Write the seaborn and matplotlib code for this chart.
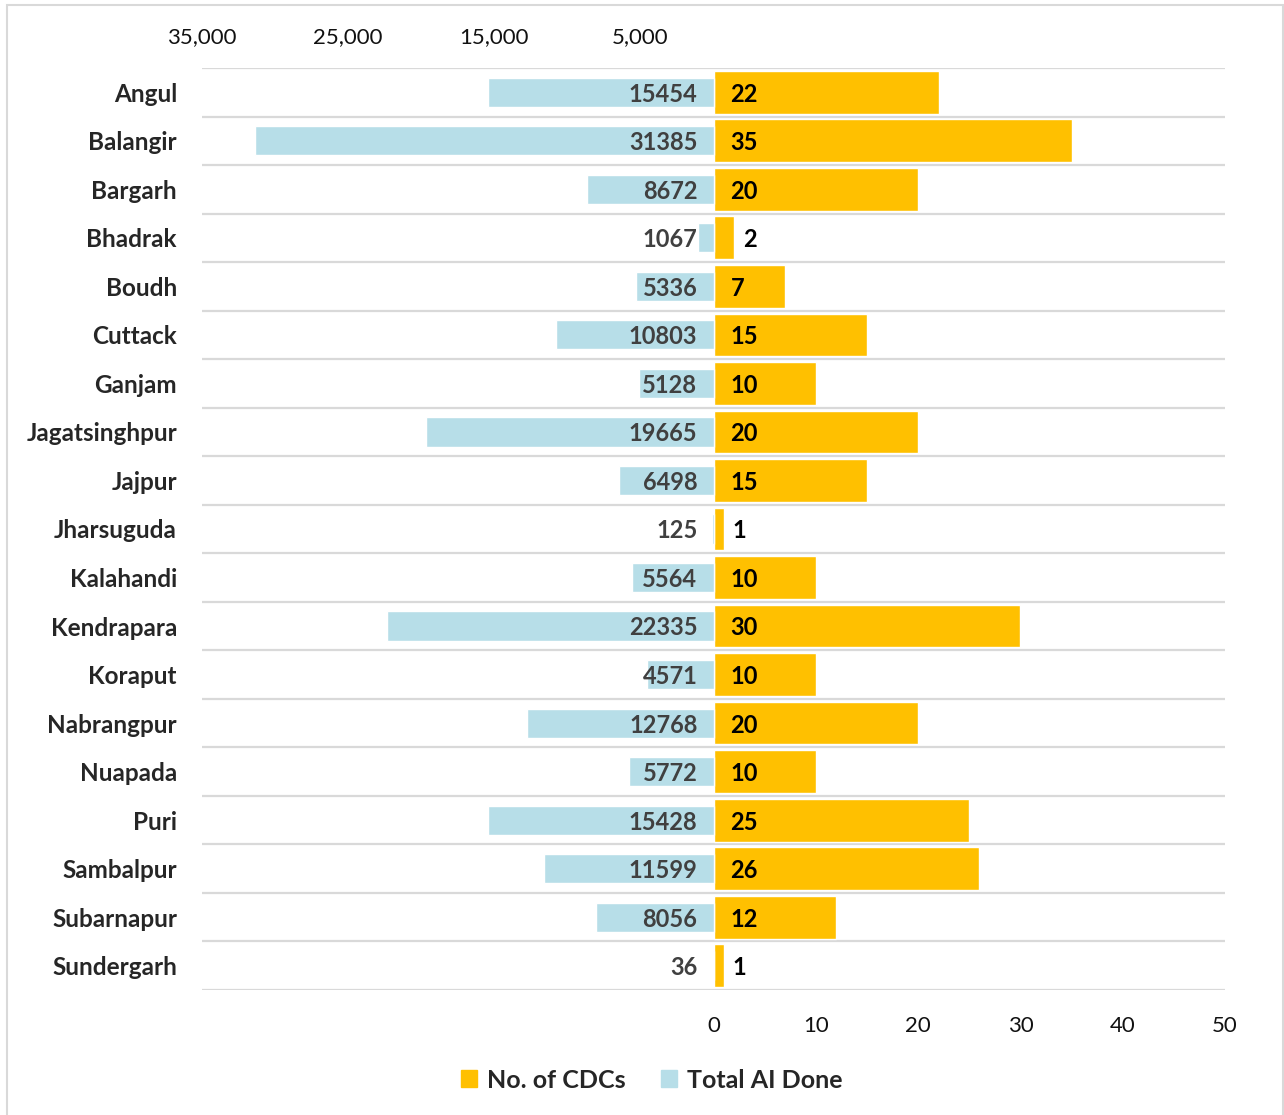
import matplotlib
matplotlib.use('Agg')
import matplotlib.pyplot as plt
import seaborn as sns
from matplotlib.patches import Patch, Rectangle

# Данные
districts = ['Angul', 'Balangir', 'Bargarh', 'Bhadrak', 'Boudh', 'Cuttack', 'Ganjam',
             'Jagatsinghpur', 'Jajpur', 'Jharsuguda', 'Kalahandi', 'Kendrapara', 'Koraput',
             'Nabrangpur', 'Nuapada', 'Puri', 'Sambalpur', 'Subarnapur', 'Sundergarh']
cdcs = [22, 35, 20, 2, 7, 15, 10, 20, 15, 1, 10, 30, 10, 20, 10, 25, 26, 12, 1]
ai_done = [15454, 31385, 8672, 1067, 5336, 10803, 5128, 19665, 6498, 125, 5564,
           22335, 4571, 12768, 5772, 15428, 11599, 8056, 36]
cdc_ticks = [0, 10, 20, 30, 40, 50]
ai_ticks = [35000, 25000, 15000, 5000]

orange = '#FFC000'
blue = '#B7DEE8'
grid_col = '#D9D9D9'

sns.set_style('white')
plt.rcParams['font.family'] = ['Lato', 'DejaVu Sans']

fig = plt.figure(figsize=(12.84, 11.15), dpi=100)
ax = fig.add_axes([202 / 1284, 1 - 990 / 1115, 1023 / 1284, 922 / 1115])
ax2 = ax.twiny()

n = len(districts)
for i in range(n + 1):
    ax.axhline(i - 0.5, color=grid_col, lw=1.6, zorder=0)

# Правая часть: количество CDC
sns.barplot(x=cdcs, y=districts, ax=ax, color=orange, width=0.88, zorder=2, saturation=1)
ax.set_xlim(-50, 50)
ax.set_xticks(cdc_ticks)
ax.set_xticklabels([str(t) for t in cdc_ticks])

# Левая часть: Total AI Done (перевёрнутая верхняя ось)
sns.barplot(x=ai_done, y=districts, ax=ax2, color=blue, width=0.6, zorder=2, saturation=1)
ax2.set_xlim(35000, -35000)
ax2.set_xticks(ai_ticks)
ax2.set_xticklabels([f'{t:,}' for t in ai_ticks])

ax.set_ylim(n - 0.5, -0.5)
ax.set_ylabel('')
ax.set_xlabel('')
ax2.set_xlabel('')
ax2.set_ylabel('')

for a in (ax, ax2):
    for s in a.spines.values():
        s.set_visible(False)
    a.tick_params(length=0)

ax.tick_params(axis='x', labelsize=16, pad=19, labelcolor='#111111')
ax2.tick_params(axis='x', labelsize=16, pad=15, labelcolor='#111111')
ax.tick_params(axis='y', labelsize=17.5, pad=18)
for lbl in ax.get_yticklabels():
    lbl.set_fontweight('bold')

# Подписи значений
for i, (c, v) in enumerate(zip(cdcs, ai_done)):
    x_lab = 1.65 if c >= 3 else c + 0.9
    ax.text(x_lab, i + 0.04, str(c), ha='left', va='center',
            fontsize=17, fontweight='bold', color='black', zorder=5)
    ax2.text(1100, i + 0.04, str(v), ha='right', va='center',
             fontsize=17, fontweight='bold', color='#404040', zorder=5)

handles = [Patch(color=orange, label='No. of CDCs'), Patch(color=blue, label='Total AI Done')]
fig.legend(handles=handles, loc='center', bbox_to_anchor=(652 / 1284, 1 - 1080 / 1115),
           ncol=2, frameon=False, handlelength=0.65, handleheight=0.65, handletextpad=0.4,
           columnspacing=1.4, prop={'size': 18, 'weight': 'bold'})

fig.patches.append(Rectangle((7 / 1284, -0.01), 1 - 7 / 1284 - 0.001, 1 - 5 / 1115 + 0.01,
                             transform=fig.transFigure, fill=False, edgecolor=grid_col, lw=1.5))

fig.savefig('out.png', dpi=100)
